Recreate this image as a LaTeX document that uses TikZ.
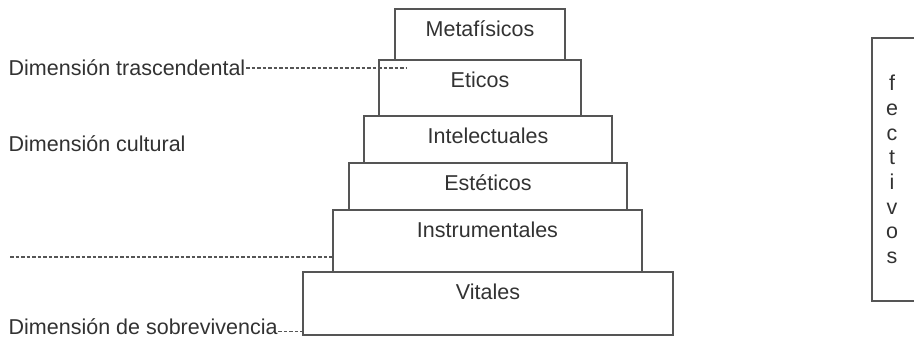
\documentclass[tikz,border=0pt]{standalone}
\usepackage{fontspec}
\setmainfont{Liberation Sans}
\usetikzlibrary{calc}
\definecolor{lineagray}{RGB}{85,85,85}
\definecolor{textogray}{RGB}{50,50,50}

\begin{document}
\begin{tikzpicture}[x=1pt,y=1pt,
    every node/.style={font=\fontsize{21.5}{25}\selectfont, text=textogray},
    tier/.style={draw=lineagray, line width=1.2pt, inner sep=0pt, outer sep=0pt,
        anchor=south west, text height=27.5pt},
    dim/.style={anchor=base west, inner sep=0.5pt},
    guide/.style={draw=lineagray, line width=1.1pt, dash pattern=on 3.5pt off 2pt},
    letra/.style={anchor=base, inner sep=0pt}]
    \clip (0,0) rectangle (914,339);

    % escalones
    \node[tier, minimum width=370pt, minimum height=63pt, text depth=35.5pt] (vitales) at (303,4) {Vitales};
    \node[tier, minimum width=309pt, minimum height=62pt, text depth=34.5pt] (instrum) at (333,67) {Instrumentales};
    \node[tier, minimum width=278pt, minimum height=47pt, text depth=19.5pt] (esteticos) at (349,129) {Estéticos};
    \node[tier, minimum width=248pt, minimum height=47pt, text depth=19.5pt] (intelect) at (364,176) {Intelectuales};
    \node[tier, minimum width=202pt, minimum height=56pt, text depth=28.5pt] (eticos) at (379,223) {Eticos};
    \node[tier, minimum width=170pt, minimum height=51pt, text depth=23.5pt] (metafis) at (395,279) {Metafísicos};

    % dimensiones
    \node[dim] (trasc) at (8,263) {Dimensión trascendental};
    \node[dim] (cultural) at (8,187) {Dimensión cultural};
    \node[dim] (sobre) at (8,4) {Dimensión de sobrevivencia};
    \coordinate (guiaizq) at (10,82);

    \draw[guide] ([yshift=8pt]trasc.base east) -- ($(trasc.base east -| eticos.west)+(28,8)$);
    \draw[guide] (guiaizq) -- (guiaizq -| instrum.west);
    \draw[guide] ([yshift=3.5pt]sobre.base east) -- ($(sobre.base east -| vitales.west)+(0,3.5)$);

    % columna derecha
    \node[draw=lineagray, line width=1.2pt, inner sep=0pt, outer sep=0pt, anchor=south west,
        minimum width=80pt, minimum height=263pt] (afect) at (872,38) {};
    \foreach \ch [count=\i] in {f,e,c,t,i,v,o,s}
        \node[letra] (af\i) at (892,248.2-24.7*\i+24.7) {\ch};
\end{tikzpicture}
\end{document}
